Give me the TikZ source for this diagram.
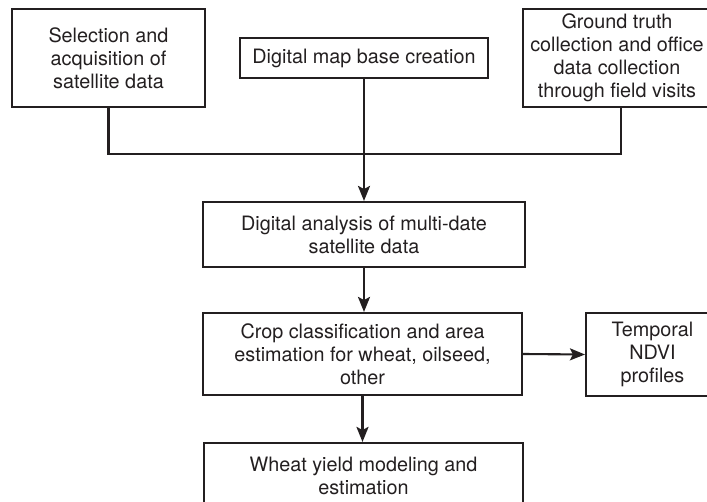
\documentclass[tikz,border=0pt]{standalone}
\usepackage{fontspec}
\setmainfont{TeX Gyre Heros}
\usetikzlibrary{arrows.meta}
\definecolor{ink}{HTML}{231F20}

\begin{document}
\begin{tikzpicture}[x=1pt, y=-1pt, line width=2.1pt,
	box/.style={draw=ink, text=ink, inner sep=0pt, align=center,
		font=\fontsize{19.8}{23}\selectfont},
	arr/.style={-{Stealth[length=15pt, width=12pt, inset=3pt]}}]
	\useasboundingbox (0,0) rectangle (707,502);
	\node[box, minimum width=193pt, minimum height=98pt] (S) at (108.5,58) {Selection and\\acquisition of\\satellite data};
	\node[box, minimum width=248pt, minimum height=40pt] (M) at (364,58) {Digital map base creation};
	\node[box, minimum width=188pt, minimum height=98pt] (G) at (617,58) {Ground truth\\collection and office\\data collection\\through field visits};
	\node[box, minimum width=322pt, minimum height=65pt] (D) at (364,234.5) {Digital analysis of multi-date\\satellite data};
	\node[box, minimum width=319pt, minimum height=82pt] (C) at (362.5,354) {Crop classification and area\\estimation for wheat, oilseed,\\other};
	\node[box, minimum width=133pt, minimum height=83pt] (T) at (652.5,354.5) {Temporal\\NDVI\\profiles};
	\node[box, minimum width=319pt, minimum height=65pt] (W) at (363.5,475.5) {Wheat yield modeling and\\estimation};
	\coordinate (J) at (364,154);
	\draw[ink] (S.south) |- (J) -| ([xshift=4pt]G.south);
	\draw[ink, arr] (M.south) -- (D.north);
	\draw[ink, arr] (D.south) -- (D.south |- C.north);
	\draw[ink, arr] (C.east) -- (T.west);
	\draw[ink, arr] (C.south) -- (C.south |- W.north);
\end{tikzpicture}
\end{document}
